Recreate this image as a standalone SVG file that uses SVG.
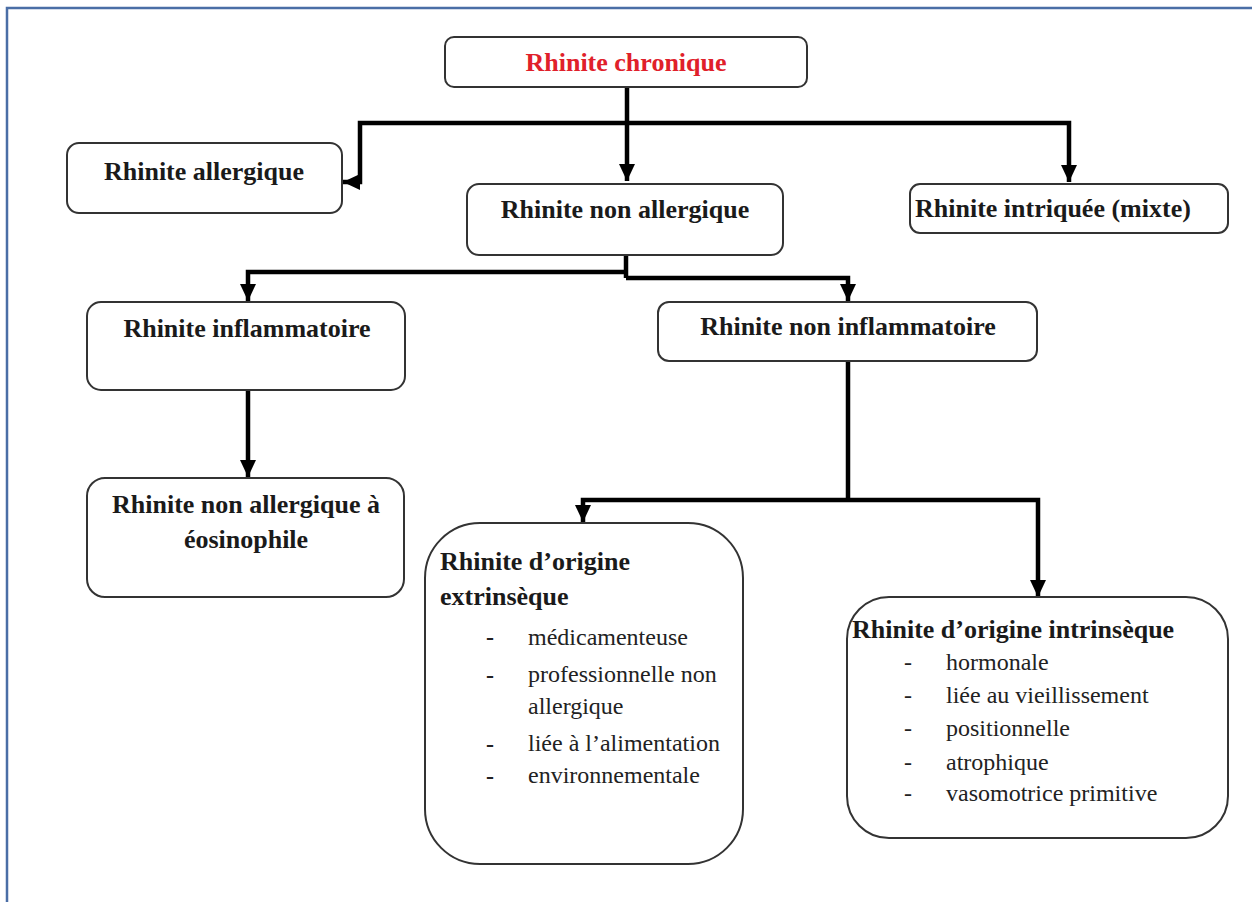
<svg xmlns="http://www.w3.org/2000/svg" width="1252" height="902" viewBox="0 0 1252 902">
  <defs>
    <marker id="arr" markerUnits="userSpaceOnUse" markerWidth="18" markerHeight="18" refX="17" refY="8" orient="auto">
      <path d="M0,0 L17,8 L0,16 Z" fill="#000"/>
    </marker>
    <style>
      .box { fill: #fff; stroke: #333; stroke-width: 2; }
      .h { font-family: "Liberation Serif", "Times New Roman", serif; font-weight: bold; font-size: 26px; fill: #1a1a1a; }
      .t { font-family: "Liberation Serif", "Times New Roman", serif; font-size: 24px; fill: #222; }
      .b { font-weight: bold; }
      .c { text-anchor: middle; }
      .con { fill: none; stroke: #000; stroke-width: 4.5; }
    </style>
  </defs>
  <rect x="0" y="0" width="1252" height="902" fill="#fff"/>
  <rect x="7" y="8" width="1270" height="920" fill="none" stroke="#4a6ea6" stroke-width="2.5"/>

  <g id="connectors">
    <path class="con" d="M627,87 V181" marker-end="url(#arr)"/>
    <path class="con" d="M627,123 H360 V182 H343" marker-end="url(#arr)"/>
    <path class="con" d="M627,123 H1069 V182" marker-end="url(#arr)"/>
    <path class="con" d="M626,255 V278"/>
    <path class="con" d="M626,272 H248 V301" marker-end="url(#arr)"/>
    <path class="con" d="M626,278 H848 V301" marker-end="url(#arr)"/>
    <path class="con" d="M248,390 V477" marker-end="url(#arr)"/>
    <path class="con" d="M848,361 V500"/>
    <path class="con" d="M848,500 H583 V522" marker-end="url(#arr)"/>
    <path class="con" d="M848,500 H1038 V597" marker-end="url(#arr)"/>
  </g>

  <g id="n-chronique">
    <rect class="box" x="445" y="37" width="362" height="50" rx="9"/>
    <text class="h c" x="626" y="71" style="fill:#e0202a">Rhinite chronique</text>
  </g>
  <g id="n-allergique">
    <rect class="box" x="67" y="143" width="275" height="70" rx="12"/>
    <text class="h c" x="204" y="180">Rhinite allergique</text>
  </g>
  <g id="n-non-allergique">
    <rect class="box" x="467" y="184" width="316" height="71" rx="12"/>
    <text class="h c" x="625" y="218">Rhinite non allergique</text>
  </g>
  <g id="n-intriquee">
    <rect class="box" x="910" y="184" width="318" height="49" rx="10"/>
    <text class="h" x="915" y="217">Rhinite intriquée (mixte)</text>
  </g>
  <g id="n-inflammatoire">
    <rect class="box" x="87" y="302" width="318" height="88" rx="14"/>
    <text class="h c" x="247" y="337">Rhinite inflammatoire</text>
  </g>
  <g id="n-non-inflammatoire">
    <rect class="box" x="658" y="302" width="379" height="59" rx="11"/>
    <text class="h c" x="848" y="335">Rhinite non inflammatoire</text>
  </g>
  <g id="n-eosinophile">
    <rect class="box" x="87" y="478" width="317" height="119" rx="18"/>
    <text class="h c" x="246" y="513">Rhinite non allergique à</text>
    <text class="h c" x="246" y="548">éosinophile</text>
  </g>
  <g id="n-extrinseque">
    <rect class="box" x="425" y="523" width="318" height="341" rx="55"/>
    <text class="h" x="440" y="570">Rhinite d’origine</text>
    <text class="h" x="440" y="605">extrinsèque</text>
    <g class="t">
      <text class="b" x="486" y="645">-</text><text x="528" y="645">médicamenteuse</text>
      <text class="b" x="486" y="683">-</text><text x="528" y="682">professionnelle non</text>
      <text x="528" y="714">allergique</text>
      <text class="b" x="486" y="752">-</text><text x="528" y="751">liée à l’alimentation</text>
      <text class="b" x="486" y="784">-</text><text x="528" y="783">environnementale</text>
    </g>
  </g>
  <g id="n-intrinseque">
    <rect class="box" x="847" y="597" width="381" height="241" rx="42"/>
    <text class="h" x="852" y="638">Rhinite d’origine intrinsèque</text>
    <g class="t">
      <text x="904" y="670">-</text><text x="946" y="670">hormonale</text>
      <text x="904" y="703">-</text><text x="946" y="703">liée au vieillissement</text>
      <text x="904" y="736">-</text><text x="946" y="736">positionnelle</text>
      <text x="904" y="770">-</text><text x="946" y="770">atrophique</text>
      <text x="904" y="801">-</text><text x="946" y="801">vasomotrice primitive</text>
    </g>
  </g>
</svg>
